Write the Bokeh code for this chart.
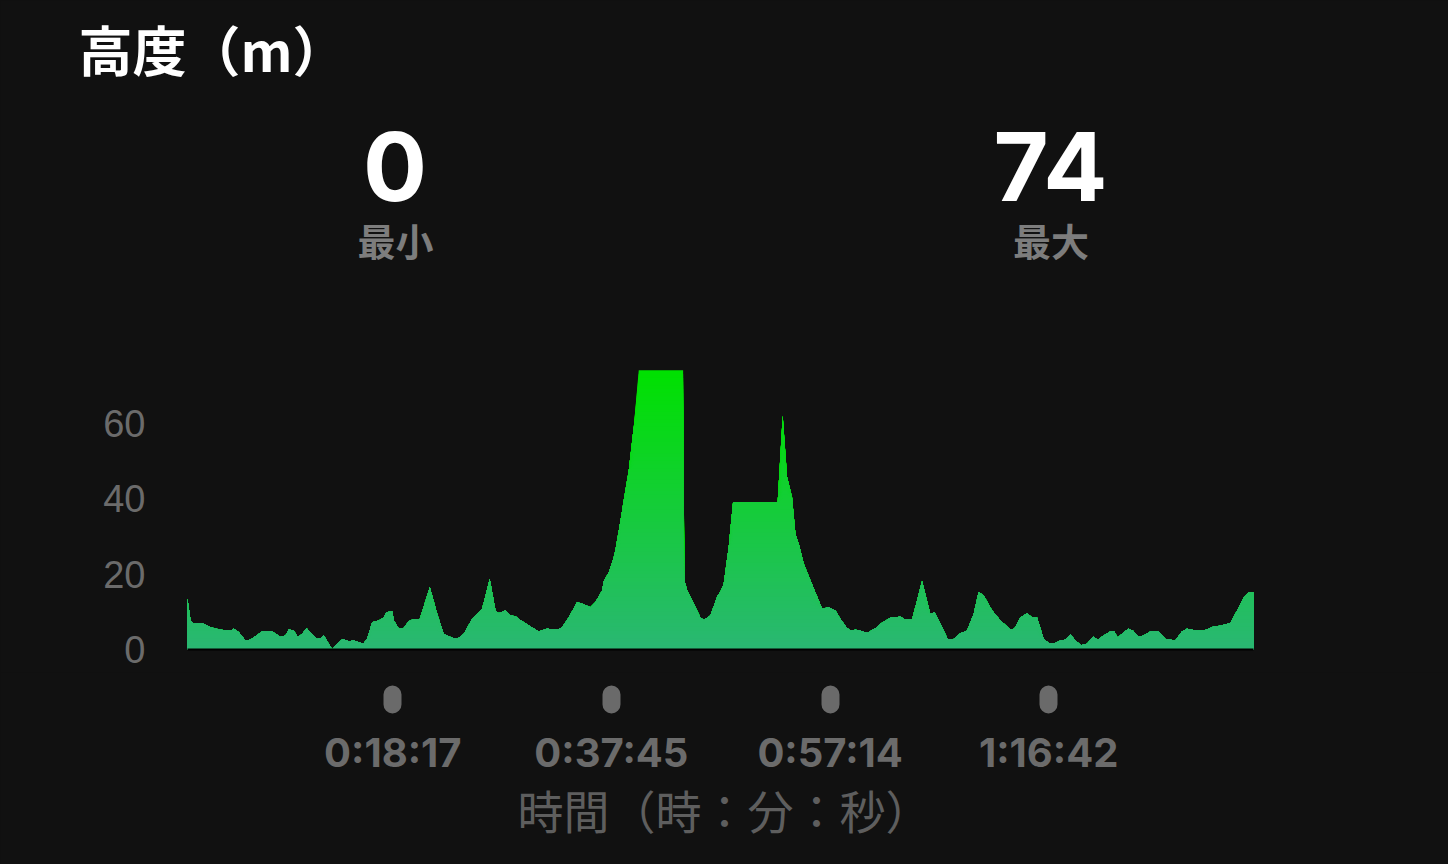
import numpy as np
from bokeh.plotting import figure
from bokeh.models import Range1d, FixedTicker, Label
from bokeh.embed import file_html
from bokeh.resources import INLINE

# ---- data ----
time_min = [0.00, 0.27, 0.56, 1.31, 2.05, 2.94, 3.83, 4.12, 4.57, 5.16,
            5.61, 6.65, 7.54, 8.28, 8.73, 9.02, 9.47, 9.82, 10.21, 10.60,
            11.10, 11.55, 11.84, 12.14, 12.44, 12.89, 13.33, 13.83, 14.36, 14.81,
            15.25, 15.65, 16.00, 16.45, 17.04, 17.48, 17.72, 18.23, 18.37, 18.82,
            19.26, 19.71, 20.15, 20.69, 21.58, 22.24, 22.82, 23.57, 24.02, 24.60,
            25.35, 25.80, 26.24, 26.92, 27.43, 27.72, 28.32, 28.76, 29.21, 29.50,
            30.54, 31.28, 32.03, 32.92, 33.37, 33.95, 34.70, 35.15, 35.89, 36.33,
            36.93, 37.07, 37.52, 37.96, 38.11, 38.56, 38.85, 39.30, 39.74, 40.19,
            44.14, 44.26, 44.50, 45.09, 45.68, 45.98, 46.57, 47.22, 47.46, 47.76,
            48.20, 48.59, 52.56, 53.01, 53.40, 53.84, 54.14, 54.44, 54.88, 55.48,
            56.52, 57.11, 57.70, 58.15, 58.68, 59.04, 59.49, 59.93, 60.53, 61.42,
            61.71, 62.60, 63.49, 63.94, 64.53, 65.42, 66.16, 66.52, 67.05, 67.70,
            68.24, 68.84, 69.43, 70.02, 70.46, 70.91, 71.66, 72.40, 73.29, 73.64,
            74.18, 74.78, 75.22, 75.67, 76.25, 76.70, 77.30, 77.74, 78.19, 78.63,
            79.08, 79.58, 80.12, 80.65, 81.06, 81.60, 82.19, 82.55, 82.84, 83.38,
            83.82, 84.21, 84.71, 85.16, 85.76, 86.49, 87.09, 87.98, 88.57, 89.02,
            89.91, 90.50, 91.39, 91.99, 92.88, 93.48, 94.07, 94.52, 94.94]

elev_m = [13.4, 7.7, 6.8, 7.0, 5.9, 5.2, 5.0, 5.5, 4.6, 2.4,
          2.6, 4.8, 4.8, 3.3, 3.7, 5.3, 5.0, 3.3, 4.1, 5.6,
          4.1, 2.8, 3.0, 3.7, 2.2, 0.0, 1.5, 2.8, 2.2, 2.4,
          1.9, 1.5, 2.8, 7.2, 7.7, 8.5, 9.9, 10.1, 7.7, 5.5,
          5.7, 7.5, 8.1, 8.1, 16.5, 9.4, 4.1, 3.1, 2.8, 4.1,
          8.1, 9.4, 10.8, 18.7, 10.3, 9.6, 10.3, 9.0, 8.8, 8.1,
          6.1, 4.8, 5.5, 5.2, 5.9, 8.5, 12.5, 12.1, 11.2, 12.5,
          15.6, 18.1, 20.4, 24.4, 26.2, 34.1, 39.4, 47.4, 58.8, 74.0,
          74.0, 18.3, 15.6, 12.1, 8.5, 7.8, 9.0, 14.3, 15.2, 17.4,
          27.1, 39.0, 39.0, 61.9, 45.6, 40.3, 30.6, 28.0, 22.7, 18.3,
          10.8, 11.2, 10.3, 8.1, 5.9, 5.0, 5.2, 5.0, 4.4, 5.9,
          6.8, 8.4, 8.7, 7.9, 7.9, 18.1, 9.4, 9.9, 6.8, 2.8,
          2.8, 4.3, 5.0, 9.4, 15.2, 14.3, 10.3, 7.7, 5.3, 5.5,
          8.5, 9.6, 8.5, 8.4, 2.8, 1.7, 1.7, 2.4, 2.6, 4.0,
          2.4, 1.1, 1.5, 3.4, 2.6, 3.7, 4.8, 4.8, 3.1, 4.6,
          5.5, 5.0, 3.3, 3.7, 4.8, 4.8, 2.8, 2.4, 4.8, 5.5,
          5.0, 5.0, 6.1, 6.3, 7.0, 10.3, 13.8, 15.2, 15.2]

tick_seconds = [1097, 2265, 3434, 4602]
tick_labels = ["0:18:17", "0:37:45", "0:57:14", "1:16:42"]
y_ticks = [0, 20, 40, 60]
stat_names = ["最小", "最大"]
title_text = "高度（m）"
x_title = "時間（時：分：秒）"

# ---- styles / layout ----
BG = "#111111"
TOP_RGB = (0, 225, 0)
BOT_RGB = (42, 183, 115)
W, H = 1448, 864
AREA_LEFT, AREA_RIGHT, BASE_Y = 187, 1253, 649   # pixel geometry of the chart
FRAME_BOTTOM = 672                                # frame extends a bit below the baseline
PX_PER_M = 3.775                                  # pixels per metre
DROP = FRAME_BOTTOM - BASE_Y

x_sec = np.array(time_min) * 60.0
elev = np.array(elev_m)
ymax = float(elev.max())
ymin = float(elev.min())
stat_values = [f"{ymin:.0f}", f"{ymax:.0f}"]

sec_per_px = (x_sec[-1] - x_sec[0]) / (AREA_RIGHT - AREA_LEFT)
x_start = x_sec[0] - AREA_LEFT * sec_per_px
x_end = x_sec[-1] + (W - AREA_RIGHT) * sec_per_px

p = figure(width=W, height=H, output_backend="svg", toolbar_location=None,
           x_range=Range1d(x_start, x_end),
           y_range=Range1d(-DROP / PX_PER_M, BASE_Y / PX_PER_M),
           min_border_left=0, min_border_right=0,
           min_border_top=0, min_border_bottom=H - FRAME_BOTTOM,
           background_fill_color=BG, border_fill_color=BG,
           outline_line_color=None)
p.grid.grid_line_color = None

# gradient fill built from stacked clipped areas
n_bands = int(np.ceil(ymax))
for k in range(n_bands, 0, -1):
    frac = min(max((k - 0.5) / ymax, 0.0), 1.0)
    r = int(round(BOT_RGB[0] + (TOP_RGB[0] - BOT_RGB[0]) * frac))
    g = int(round(BOT_RGB[1] + (TOP_RGB[1] - BOT_RGB[1]) * frac))
    b = int(round(BOT_RGB[2] + (TOP_RGB[2] - BOT_RGB[2]) * frac))
    col = "#%02x%02x%02x" % (r, g, b)
    p.varea(x=x_sec, y1=0, y2=np.minimum(elev, k), fill_color=col)

# dark baseline under the area
p.line(x=[x_sec[0], x_sec[-1]], y=[0, 0], line_color="#000000", line_width=2)

# x axis: dots as round tick marks, time labels
xa = p.xaxis[0]
xa.ticker = FixedTicker(ticks=tick_seconds)
xa.major_label_overrides = {t: lab for t, lab in zip(tick_seconds, tick_labels)}
xa.axis_line_color = None
xa.major_tick_line_color = "#6a6a6a"
xa.major_tick_line_width = 18
xa.major_tick_line_cap = "round"
xa.major_tick_in = -(45 - DROP)
xa.major_tick_out = 55 - DROP
xa.minor_tick_line_color = None
xa.major_label_standoff = 23
xa.major_label_text_font = "Inter"
xa.major_label_text_font_style = "bold"
xa.major_label_text_font_size = "40px"
xa.major_label_text_color = "#6b6b6b"
xa.axis_label = x_title
xa.axis_label_text_font = "Noto Sans CJK JP"
xa.axis_label_text_font_style = "normal"
xa.axis_label_text_font_size = "46px"
xa.axis_label_text_color = "#5e5e5e"
xa.axis_label_standoff = -4

ya = p.yaxis[0]
ya.fixed_location = x_sec[0]
ya.ticker = FixedTicker(ticks=y_ticks)
ya.axis_line_color = None
ya.major_tick_line_color = None
ya.minor_tick_line_color = None
ya.major_tick_in = 0
ya.major_tick_out = 0
ya.major_label_standoff = 42
ya.major_label_text_font = "Liberation Sans"
ya.major_label_text_font_size = "38px"
ya.major_label_text_color = "#6b6b6b"

# header texts (screen units: x from frame left, y up from frame bottom)
def add_text(x, y, text, font, size, color, align, baseline):
    p.add_layout(Label(x=x, y=FRAME_BOTTOM - y, x_units="screen", y_units="screen",
                       text=text, text_font=font, text_font_style="bold",
                       text_font_size=size, text_color=color,
                       text_align=align, text_baseline=baseline))

add_text(78, 48, title_text, "Noto Sans CJK JP", "54px", "#ffffff", "left", "middle")
stat_x = [394.5, 1050]
for sx, val, name in zip(stat_x, stat_values, stat_names):
    add_text(sx, 166, val, "Inter", "95px", "#ffffff", "center", "alphabetic")
    add_text(sx + 0.5, 239, name, "Noto Sans CJK JP", "38px", "#7d7d7d", "center", "middle")

html = file_html(p, INLINE, title="高度")
html = html.replace("</head>",
                    "<style>html,body{background:#111111;margin:0;}</style></head>", 1)
open("out.html", "w", encoding="utf-8").write(html)
